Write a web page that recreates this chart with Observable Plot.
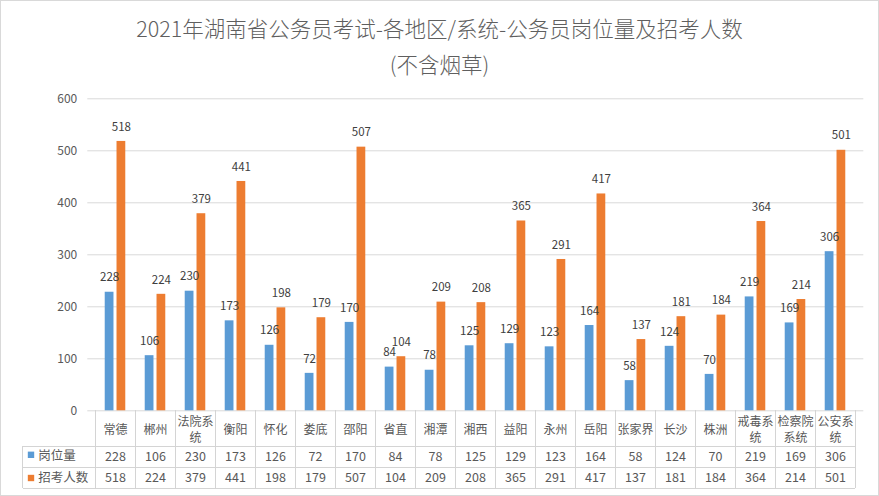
<!DOCTYPE html>
<html>
<head>
<meta charset="utf-8">
<script src="https://cdn.jsdelivr.net/npm/d3@7"></script>
<script src="https://cdn.jsdelivr.net/npm/@observablehq/plot@0.6"></script>
<style>
  body { margin: 0; background: #fff; }
  #wrap { position: relative; width: 879px; height: 496px; overflow: hidden; background: #fff;
          font-family: "Noto Sans CJK SC", "Noto Sans", sans-serif; }
  .ttl { position: absolute; left: 0; width: 879px; text-align: center; font-size: 21.5px;
         color: #5f5f5f; line-height: 30px; white-space: nowrap;
         font-family: "Noto Sans CJK SC Light", "Noto Sans CJK SC", sans-serif; font-weight: 300; }
  #title { top: 13px; }
  #sub { top: 49px; }
  #chart { position: absolute; left: 0; top: 0; }
  #border { position: absolute; left: 0; top: 0; width: 877px; height: 494px;
            border: 1px solid #d9d9d9; pointer-events: none; }
</style>
</head>
<body>
<div id="wrap">
  <div id="chart"></div>
  <div class="ttl" id="title">2021年湖南省公务员考试-各地区/系统-公务员岗位量及招考人数</div>
  <div class="ttl" id="sub">(不含烟草)</div>
  <div id="border"></div>
</div>
<script>
const categories = ["常德","郴州","法院系统","衡阳","怀化","娄底","邵阳","省直","湘潭","湘西","益阳","永州","岳阳","张家界","长沙","株洲","戒毒系统","检察院系统","公安系统"];
const headerLabels = ["常德","郴州","法院系\n统","衡阳","怀化","娄底","邵阳","省直","湘潭","湘西","益阳","永州","岳阳","张家界","长沙","株洲","戒毒系\n统","检察院\n系统","公安系\n统"];
const posts =    [228,106,230,173,126,72,170,84,78,125,129,123,164,58,124,70,219,169,306];
const recruits = [518,224,379,441,198,179,507,104,209,208,365,291,417,137,181,184,364,214,501];
const seriesNames = ["岗位量","招考人数"];
const yTicks = [0,100,200,300,400,500,600];
const colors = ["#5B9BD5","#ED7D31"];

const rows = categories.map((c, i) => ({category: c, label: headerLabels[i], posts: posts[i], recruits: recruits[i]}));

const W = 879, H = 496, mL = 87.3, mR = 15.7, mT = 98.3, mB = 85.7;
const band = (W - mL - mR) / categories.length;
const BW = 9.6, GAP = 2.2;
const side = (band - 2 * BW - GAP) / 2;
const off = band / 2 - side - BW / 2;
const axisY = H - mB;
const textColor = "#595959";

const chart = Plot.plot({
  width: W, height: H,
  marginLeft: mL, marginRight: mR, marginTop: mT, marginBottom: mB,
  style: {fontFamily: '"Noto Sans CJK SC", "Noto Sans", sans-serif', fontSize: "12px", background: "transparent", overflow: "visible"},
  x: {domain: categories, padding: 0, axis: null},
  y: {domain: [0, 600], axis: null},
  marks: [
    Plot.ruleY(yTicks, {y: d => d, stroke: "#d9d9d9", strokeWidth: 1}),
    Plot.text(yTicks, {y: d => d, text: d => String(d), frameAnchor: "left", textAnchor: "end", dx: -10.6, fill: textColor, fontSize: 12}),
    Plot.barY(rows, {x: "category", y: "posts", fill: colors[0], insetLeft: side, insetRight: band - side - BW}),
    Plot.barY(rows, {x: "category", y: "recruits", fill: colors[1], insetLeft: side + BW + GAP, insetRight: side}),
    Plot.text(rows, {x: "category", y: "posts", text: d => String(d.posts), dx: -off, dy: -14.5, lineAnchor: "middle", fill: "#404040", fontSize: 11.5}),
    Plot.text(rows, {x: "category", y: "recruits", text: d => String(d.recruits), dx: off, dy: -14.5, lineAnchor: "middle", fill: "#404040", fontSize: 11.5}),
    // data table
    Plot.text(rows, {x: "category", text: "label", frameAnchor: "bottom", dy: 18, lineAnchor: "middle", lineHeight: 1.36, fill: textColor, fontSize: 12}),
    Plot.text(rows, {x: "category", text: d => String(d.posts), frameAnchor: "bottom", dy: 46.4, lineAnchor: "middle", fill: textColor, fontSize: 12.5}),
    Plot.text(rows, {x: "category", text: d => String(d.recruits), frameAnchor: "bottom", dy: 67.2, lineAnchor: "middle", fill: textColor, fontSize: 12.5}),
    Plot.dot([seriesNames[0]], {frameAnchor: "bottom-left", dx: 30.5 - mL, dy: 454.3 - axisY, symbol: "square", r: 3.6, fill: colors[0]}),
    Plot.dot([seriesNames[1]], {frameAnchor: "bottom-left", dx: 30.5 - mL, dy: 477.5 - axisY, symbol: "square", r: 3.6, fill: colors[1]}),
    Plot.text([seriesNames[0]], {frameAnchor: "bottom-left", text: d => d, textAnchor: "start", lineAnchor: "middle", dx: 37.7 - mL, dy: 455.5 - axisY, fill: textColor, fontSize: 12.5}),
    Plot.text([seriesNames[1]], {frameAnchor: "bottom-left", text: d => d, textAnchor: "start", lineAnchor: "middle", dx: 37.7 - mL, dy: 477 - axisY, fill: textColor, fontSize: 12.5})
  ]
});
document.getElementById("chart").appendChild(chart);

// table grid lines positioned from Plot's x scale
const sx = chart.scale("x");
const bw = sx.bandwidth != null ? sx.bandwidth : band;
const g = d3.select(chart).append("g").attr("stroke", "#d4d4d4").attr("stroke-width", 1).attr("shape-rendering", "crispEdges");
const xs = categories.map(c => sx.apply(c));
const bounds = xs.concat([xs[xs.length - 1] + bw]);
const rowYs = [446, 467, 488];
const x0 = 22.7, xEnd = bounds[bounds.length - 1];
bounds.forEach(x => g.append("line").attr("x1", x).attr("x2", x).attr("y1", axisY).attr("y2", 488));
g.append("line").attr("x1", x0).attr("x2", x0).attr("y1", 446).attr("y2", 488);
rowYs.forEach(y => g.append("line").attr("x1", x0).attr("x2", xEnd).attr("y1", y).attr("y2", y));
</script>
</body>
</html>
